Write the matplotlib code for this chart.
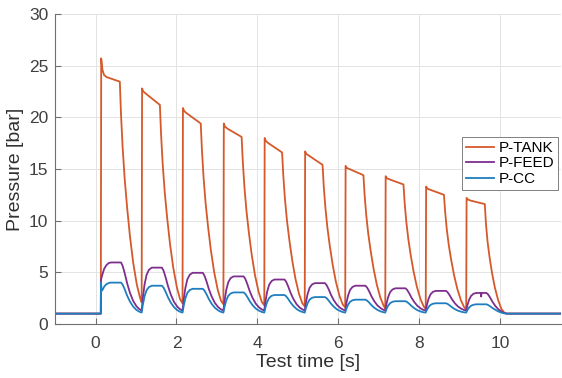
import matplotlib
matplotlib.use("Agg")
import matplotlib.pyplot as plt

plt.rcParams['font.family'] = ['Liberation Sans', 'DejaVu Sans']

# values, one row per pulse
t_tank = [-1.0, 0.13,
          0.14, 0.17, 0.21, 0.27, 0.60, 0.63, 0.67, 0.72, 0.78, 0.85, 0.93, 1.02, 1.10, 1.14,
          1.15, 1.18, 1.24, 1.59, 1.62, 1.66, 1.71, 1.77, 1.84, 1.92, 2.01, 2.09, 2.15,
          2.16, 2.19, 2.25, 2.60, 2.63, 2.67, 2.72, 2.78, 2.85, 2.93, 3.02, 3.10, 3.16,
          3.17, 3.20, 3.26, 3.61, 3.64, 3.68, 3.73, 3.79, 3.86, 3.94, 4.03, 4.11, 4.17,
          4.18, 4.21, 4.27, 4.61, 4.64, 4.68, 4.73, 4.79, 4.86, 4.94, 5.03, 5.11, 5.17,
          5.18, 5.21, 5.27, 5.61, 5.64, 5.68, 5.73, 5.79, 5.86, 5.94, 6.03, 6.11, 6.17,
          6.18, 6.21, 6.27, 6.62, 6.65, 6.69, 6.74, 6.80, 6.87, 6.95, 7.04, 7.12, 7.16,
          7.17, 7.20, 7.26, 7.61, 7.64, 7.68, 7.73, 7.79, 7.86, 7.94, 8.03, 8.11, 8.16,
          8.17, 8.20, 8.26, 8.61, 8.64, 8.68, 8.73, 8.79, 8.86, 8.94, 9.03, 9.11, 9.16,
          9.17, 9.20, 9.26, 9.62, 9.65, 9.69, 9.74, 9.80, 9.87, 9.95, 10.03, 10.10, 10.16,
          11.5]
p_tank = [1.0, 1.0,
          25.7, 24.6, 24.1, 23.9, 23.45, 20.25, 17.05, 14.06, 11.28, 8.51, 5.94, 3.81, 2.53, 2.1,
          22.8, 22.5, 22.3, 21.2, 18.32, 15.44, 12.75, 10.26, 7.76, 5.46, 3.54, 2.38, 2.0,
          20.9, 20.6, 20.4, 19.4, 16.78, 14.15, 11.7, 9.43, 7.15, 5.05, 3.3, 2.25, 1.9,
          19.4, 19.1, 18.9, 18.1, 15.66, 13.21, 10.93, 8.81, 6.69, 4.73, 3.10, 2.13, 1.8,
          18.0, 17.7, 17.5, 16.6, 14.37, 12.13, 10.04, 8.11, 6.17, 4.38, 2.89, 2.0, 1.7,
          16.7, 16.45, 16.3, 15.4, 13.33, 11.26, 9.33, 7.53, 5.74, 4.08, 2.70, 1.88, 1.6,
          15.3, 15.1, 15.0, 14.4, 12.47, 10.53, 8.72, 7.05, 5.37, 3.82, 2.53, 1.76, 1.5,
          14.3, 14.1, 14.0, 13.5, 11.69, 9.89, 8.2, 6.63, 5.07, 3.62, 2.41, 1.69, 1.45,
          13.3, 13.1, 13.0, 12.5, 10.84, 9.17, 7.62, 6.17, 4.73, 3.4, 2.29, 1.62, 1.4,
          12.2, 12.05, 11.95, 11.6, 9.6, 7.9, 6.4, 4.9, 3.5, 2.3, 1.45, 1.1, 1.0,
          1.0]

t_feed = [-1.0, 0.13,
          0.135, 0.17, 0.21, 0.26, 0.32, 0.38, 0.63, 0.67, 0.72, 0.78, 0.85, 0.93, 1.01, 1.08, 1.14,
          1.17, 1.21, 1.26, 1.32, 1.39, 1.64, 1.68, 1.73, 1.79, 1.86, 1.94, 2.02, 2.09, 2.15,
          2.18, 2.22, 2.27, 2.33, 2.40, 2.65, 2.69, 2.74, 2.80, 2.87, 2.95, 3.03, 3.10, 3.16,
          3.19, 3.23, 3.28, 3.34, 3.41, 3.66, 3.70, 3.75, 3.81, 3.88, 3.96, 4.04, 4.11, 4.17,
          4.20, 4.24, 4.29, 4.35, 4.42, 4.67, 4.71, 4.76, 4.82, 4.89, 4.97, 5.05, 5.12, 5.17,
          5.20, 5.24, 5.29, 5.35, 5.42, 5.67, 5.71, 5.76, 5.82, 5.89, 5.97, 6.05, 6.12, 6.17,
          6.20, 6.24, 6.29, 6.35, 6.42, 6.67, 6.71, 6.76, 6.82, 6.89, 6.97, 7.05, 7.11, 7.16,
          7.19, 7.23, 7.28, 7.34, 7.41, 7.66, 7.70, 7.75, 7.81, 7.88, 7.96, 8.04, 8.10, 8.16,
          8.19, 8.23, 8.28, 8.34, 8.41, 8.66, 8.70, 8.75, 8.81, 8.88, 8.96, 9.04, 9.10, 9.16,
          9.19, 9.23, 9.28, 9.34, 9.41, 9.52, 9.53, 9.54, 9.66, 9.70, 9.75, 9.81, 9.88, 9.96,
          10.04, 10.10, 10.16,
          11.5]
p_feed = [1.0, 1.0,
          4.3, 4.8, 5.3, 5.65, 5.88, 5.95, 5.95, 5.62, 4.93, 3.95, 3.02, 2.23, 1.72, 1.44, 1.3,
          2.55, 3.79, 4.74, 5.24, 5.45, 5.45, 5.16, 4.54, 3.67, 2.84, 2.13, 1.67, 1.42, 1.3,
          2.40, 3.49, 4.33, 4.77, 4.95, 4.95, 4.69, 4.15, 3.38, 2.65, 2.03, 1.63, 1.41, 1.3,
          2.29, 3.28, 4.04, 4.44, 4.6, 4.6, 4.37, 3.87, 3.18, 2.52, 1.96, 1.60, 1.40, 1.3,
          2.2, 3.1, 3.79, 4.15, 4.3, 4.3, 4.09, 3.64, 3.01, 2.41, 1.9, 1.57, 1.39, 1.3,
          2.1, 2.89, 3.5, 3.82, 3.95, 3.95, 3.76, 3.37, 2.81, 2.28, 1.83, 1.54, 1.38, 1.3,
          2.02, 2.74, 3.29, 3.58, 3.7, 3.7, 3.53, 3.17, 2.67, 2.19, 1.78, 1.52, 1.37, 1.3,
          1.95, 2.59, 3.08, 3.34, 3.45, 3.45, 3.3, 2.98, 2.53, 2.1, 1.73, 1.49, 1.36, 1.3,
          1.87, 2.44, 2.88, 3.11, 3.2, 3.2, 3.07, 2.78, 2.38, 2.0, 1.68, 1.47, 1.36, 1.3,
          1.81, 2.32, 2.71, 2.92, 3.0, 3.0, 2.65, 3.0, 3.0, 2.86, 2.56, 2.14, 1.74, 1.4,
          1.18, 1.06, 1.0,
          1.0]

t_cc = [-1.0, 0.13,
        0.135, 0.15, 0.18, 0.22, 0.27, 0.33, 0.38, 0.63, 0.67, 0.72, 0.78, 0.85, 0.93, 1.01, 1.08, 1.14,
        1.17, 1.21, 1.26, 1.32, 1.39, 1.64, 1.68, 1.73, 1.79, 1.86, 1.94, 2.02, 2.09, 2.15,
        2.18, 2.22, 2.27, 2.33, 2.40, 2.65, 2.69, 2.74, 2.80, 2.87, 2.95, 3.03, 3.10, 3.16,
        3.19, 3.23, 3.28, 3.34, 3.41, 3.66, 3.70, 3.75, 3.81, 3.88, 3.96, 4.04, 4.11, 4.17,
        4.20, 4.24, 4.29, 4.35, 4.42, 4.67, 4.71, 4.76, 4.82, 4.89, 4.97, 5.05, 5.12, 5.17,
        5.20, 5.24, 5.29, 5.35, 5.42, 5.67, 5.71, 5.76, 5.82, 5.89, 5.97, 6.05, 6.12, 6.17,
        6.20, 6.24, 6.29, 6.35, 6.42, 6.67, 6.71, 6.76, 6.82, 6.89, 6.97, 7.05, 7.11, 7.16,
        7.19, 7.23, 7.28, 7.34, 7.41, 7.66, 7.70, 7.75, 7.81, 7.88, 7.96, 8.04, 8.10, 8.16,
        8.19, 8.23, 8.28, 8.34, 8.41, 8.66, 8.70, 8.75, 8.81, 8.88, 8.96, 9.04, 9.10, 9.16,
        9.19, 9.23, 9.28, 9.34, 9.41, 9.66, 9.70, 9.75, 9.81, 9.88, 9.96, 10.04, 10.10, 10.16,
        11.5]
p_cc = [1.0, 1.0,
        4.0, 3.2, 3.35, 3.65, 3.85, 3.97, 4.0, 4.0, 3.8, 3.36, 2.75, 2.17, 1.68, 1.36, 1.19, 1.1,
        1.88, 2.66, 3.26, 3.57, 3.7, 3.7, 3.52, 3.13, 2.58, 2.06, 1.62, 1.33, 1.18, 1.1,
        1.79, 2.48, 3.01, 3.29, 3.4, 3.4, 3.24, 2.89, 2.41, 1.95, 1.56, 1.31, 1.17, 1.1,
        1.69, 2.27, 2.72, 2.95, 3.05, 3.05, 2.91, 2.62, 2.21, 1.82, 1.49, 1.28, 1.16, 1.1,
        1.61, 2.12, 2.51, 2.72, 2.8, 2.8, 2.68, 2.43, 2.07, 1.73, 1.44, 1.25, 1.15, 1.1,
        1.55, 2.0, 2.35, 2.53, 2.6, 2.6, 2.5, 2.27, 1.96, 1.66, 1.4, 1.24, 1.14, 1.1,
        1.48, 1.85, 2.14, 2.29, 2.35, 2.35, 2.26, 2.08, 1.81, 1.56, 1.35, 1.21, 1.14, 1.1,
        1.43, 1.76, 2.01, 2.15, 2.2, 2.2, 2.12, 1.96, 1.73, 1.51, 1.32, 1.2, 1.13, 1.1,
        1.37, 1.64, 1.85, 1.96, 2.0, 2.0, 1.94, 1.8, 1.61, 1.43, 1.28, 1.18, 1.13, 1.1,
        1.34, 1.58, 1.76, 1.86, 1.9, 1.9, 1.84, 1.71, 1.54, 1.37, 1.2, 1.08, 1.02, 1.0,
        1.0]

fig = plt.figure(figsize=(5.62, 3.78), dpi=100)
ax = fig.add_axes([0.098, 0.143, 0.900, 0.820])

ax.plot(t_tank, p_tank, color='#D5592A', lw=1.3, label='P-TANK')
ax.plot(t_feed, p_feed, color='#7E2F8E', lw=1.3, label='P-FEED')
ax.plot(t_cc, p_cc, color='#1F7EC0', lw=1.3, label='P-CC')

ax.set_xlim(-1, 11.5)
ax.set_ylim(0, 30)
ax.set_xticks([0, 2, 4, 6, 8, 10])
ax.set_yticks([0, 5, 10, 15, 20, 25, 30])
ax.grid(True, color='#e3e3e3', lw=0.7)
ax.set_axisbelow(True)

for side in ['top', 'right']:
    ax.spines[side].set_visible(False)
for side in ['left', 'bottom']:
    ax.spines[side].set_color('#707070')
    ax.spines[side].set_linewidth(0.8)
ax.tick_params(direction='in', length=4, width=0.8, color='#707070',
               labelsize=12.5, labelcolor='#404040')
ax.tick_params(axis='x', pad=9)
ax.tick_params(axis='y', pad=5)

ax.set_xlabel('Test time [s]', fontsize=14, color='#303030', labelpad=2)
ax.set_ylabel('Pressure [bar]', fontsize=14, color='#303030', labelpad=3)

leg = ax.legend(loc='upper right', bbox_to_anchor=(0.994, 0.603), fontsize=11,
                frameon=True, fancybox=False, framealpha=1, edgecolor='#808080',
                borderpad=0.25, labelspacing=0.1, handlelength=1.8, handletextpad=0.3,
                borderaxespad=0)
leg.get_frame().set_linewidth(0.7)

fig.savefig('out.png', dpi=100)
